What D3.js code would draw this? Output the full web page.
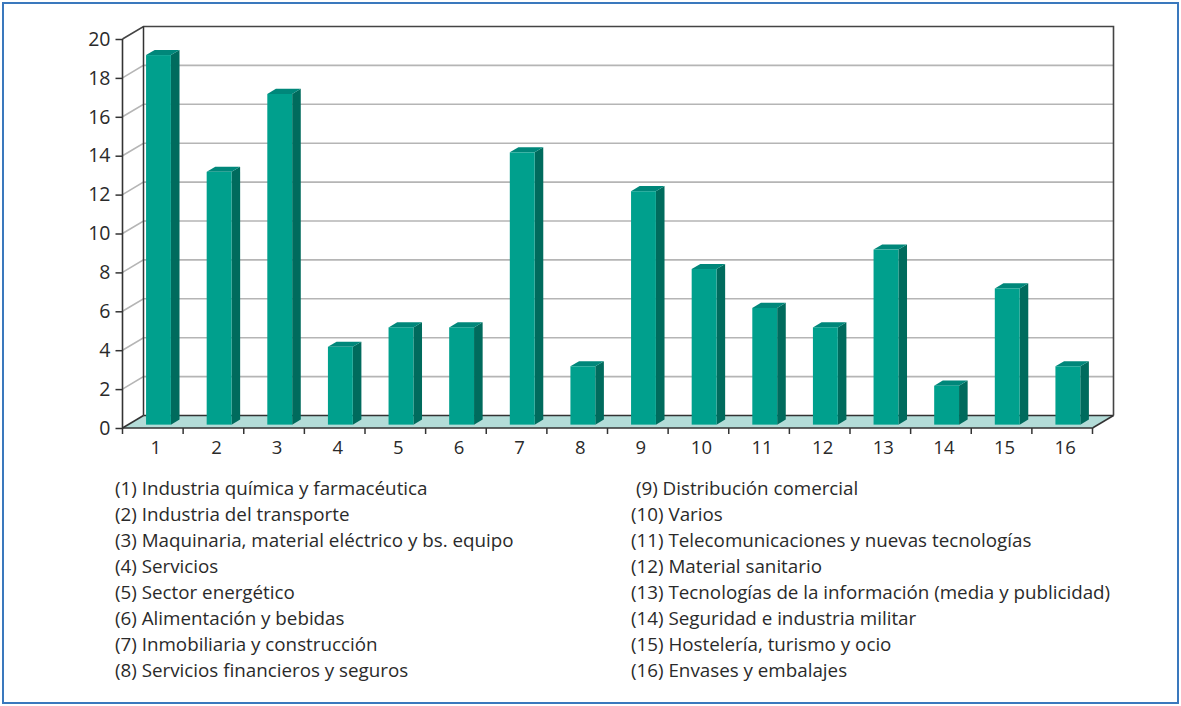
<!DOCTYPE html>
<html>
<head>
<meta charset="utf-8">
<script src="https://cdn.jsdelivr.net/npm/d3@7"></script>
<style>
  html, body { margin: 0; padding: 0; background: #fff; }
  svg { display: block; }
  text { font-family: "Open Sans", "Noto Sans", sans-serif; fill: #2a2a2a; }
</style>
</head>
<body>
<svg id="chart" width="1181" height="706"></svg>
<script>
// ---- Data ----
const categories = ["1","2","3","4","5","6","7","8","9","10","11","12","13","14","15","16"];
const values = [19, 13, 17, 4, 5, 5, 14, 3, 12, 8, 6, 5, 9, 2, 7, 3];
const yTicks = [0, 2, 4, 6, 8, 10, 12, 14, 16, 18, 20];
const legendLeft = [
  "(1) Industria química y farmacéutica",
  "(2) Industria del transporte",
  "(3) Maquinaria, material eléctrico y bs. equipo",
  "(4) Servicios",
  "(5) Sector energético",
  "(6) Alimentación y bebidas",
  "(7) Inmobiliaria y construcción",
  "(8) Servicios financieros y seguros"
];
const legendRight = [
  " (9) Distribución comercial",
  "(10) Varios",
  "(11) Telecomunicaciones y nuevas tecnologías",
  "(12) Material sanitario",
  "(13) Tecnologías de la información (media y publicidad)",
  "(14) Seguridad e industria militar",
  "(15) Hostelería, turismo y ocio",
  "(16) Envases y embalajes"
];

// ---- Layout ----
const svg = d3.select("#chart");
const W = 1181, H = 706;
const pLeft = 122.5, pRight = 1092.5, pBottom = 428, pTop = 39;
const dX = 21, dY = -12.5;           // depth offset of back wall
const z0 = 0.27, z1 = 0.68;          // bar depth fractions
const barFrac = 0.41;

const x = d3.scaleBand().domain(categories).range([pLeft, pRight]).padding(0);
const y = d3.scaleLinear().domain([0, 20]).range([pBottom, pTop]);

const colFront = "#00a08d", colSide = "#006b5d", colTop = "#00877a";
const gridCol = "#b5b5b5", axisCol = "#333";

// outer border
svg.append("rect").attr("x", 3).attr("y", 3).attr("width", W - 6).attr("height", H - 6)
  .attr("fill", "none").attr("stroke", "#3a78bd").attr("stroke-width", 2);

const g = svg.append("g");

// floor
g.append("polygon")
  .attr("points", [[pLeft, pBottom], [pRight, pBottom], [pRight + dX, pBottom + dY], [pLeft + dX, pBottom + dY]].join(" "))
  .attr("fill", "#b3dcd8");

// gridlines: left wall diagonal + back wall horizontal
yTicks.filter(t => t > 0 && t < 20).forEach(t => {
  const yy = y(t);
  g.append("polyline")
    .attr("points", [[pLeft, yy], [pLeft + dX, yy + dY], [pRight + dX, yy + dY]].join(" "))
    .attr("fill", "none").attr("stroke", gridCol).attr("stroke-width", 1.6);
});
// back wall bottom line
g.append("line").attr("x1", pLeft + dX).attr("x2", pRight + dX)
  .attr("y1", pBottom + dY).attr("y2", pBottom + dY)
  .attr("stroke", axisCol).attr("stroke-width", 1.3);

// wall edges
const edge = (pts, col, w) => g.append("polyline").attr("points", pts.join(" "))
  .attr("fill", "none").attr("stroke", col || axisCol).attr("stroke-width", w || 1.5);
edge([[pLeft, y(20)], [pLeft + dX, y(20) + dY], [pRight + dX, y(20) + dY], [pRight + dX, pBottom + dY]], "#444", 1.6);
edge([[pLeft + dX, y(20) + dY], [pLeft + dX, pBottom + dY]]);
edge([[pLeft, pBottom], [pLeft + dX, pBottom + dY]]);
edge([[pRight, pBottom], [pRight + dX, pBottom + dY]]);

// bars
const bw = x.bandwidth() * barFrac;
const bars = g.append("g");
categories.forEach((c, i) => {
  const v = values[i];
  const fx = x(c) + (x.bandwidth() - bw) / 2 + z0 * dX;
  const fy0 = y(0) + z0 * dY;
  const fy1 = y(v) + z0 * dY;
  const ddx = (z1 - z0) * dX, ddy = (z1 - z0) * dY;
  bars.append("polygon")
    .attr("points", [[fx + bw, fy0], [fx + bw + ddx, fy0 + ddy], [fx + bw + ddx, fy1 + ddy], [fx + bw, fy1]].join(" "))
    .attr("fill", colSide);
  bars.append("polygon")
    .attr("points", [[fx, fy1], [fx + bw, fy1], [fx + bw + ddx, fy1 + ddy], [fx + ddx, fy1 + ddy]].join(" "))
    .attr("fill", colTop);
  bars.append("rect").attr("x", fx).attr("y", fy1).attr("width", bw).attr("height", fy0 - fy1)
    .attr("fill", colFront);
});

// front axes
edge([[pLeft, y(20)], [pLeft, pBottom], [pRight, pBottom]], axisCol, 1.6);

// y axis ticks and labels
const yAxis = d3.axisLeft(y).tickValues(yTicks).tickSize(7).tickPadding(5);
const ya = svg.append("g").attr("transform", `translate(${pLeft},0)`).call(yAxis);
ya.select(".domain").remove();
ya.selectAll(".tick line").attr("stroke", axisCol).attr("stroke-width", 1.5);
ya.selectAll(".tick text").attr("font-size", 19.5).attr("fill", "#2a2a2a")
  .attr("font-family", "'Open Sans', sans-serif");

// x axis ticks (boundaries) and labels
const bounds = categories.map(c => x(c)).concat([pRight]);
svg.append("g").selectAll("line").data(bounds).join("line")
  .attr("x1", d => d).attr("x2", d => d).attr("y1", pBottom).attr("y2", pBottom + 6)
  .attr("stroke", axisCol).attr("stroke-width", 1.5);
svg.append("g").selectAll("text").data(categories).join("text")
  .attr("x", d => x(d) + x.bandwidth() / 2 + 3)
  .attr("y", pBottom + 20)
  .attr("dy", "0.35em")
  .attr("text-anchor", "middle")
  .attr("font-size", 18.5)
  .text(d => d);

// legend
const rowY = d3.scaleLinear().domain([0, 7]).range([488, 670]);
svg.append("g").selectAll("text").data(legendLeft).join("text")
  .attr("x", 115).attr("y", (d, i) => rowY(i)).attr("dy", "0.35em")
  .attr("font-size", 18.8).style("white-space", "pre")
  .text(d => d);
svg.append("g").selectAll("text").data(legendRight).join("text")
  .attr("x", 631).attr("y", (d, i) => rowY(i)).attr("dy", "0.35em")
  .attr("font-size", 18.8).style("white-space", "pre")
  .text(d => d);
</script>
</body>
</html>
